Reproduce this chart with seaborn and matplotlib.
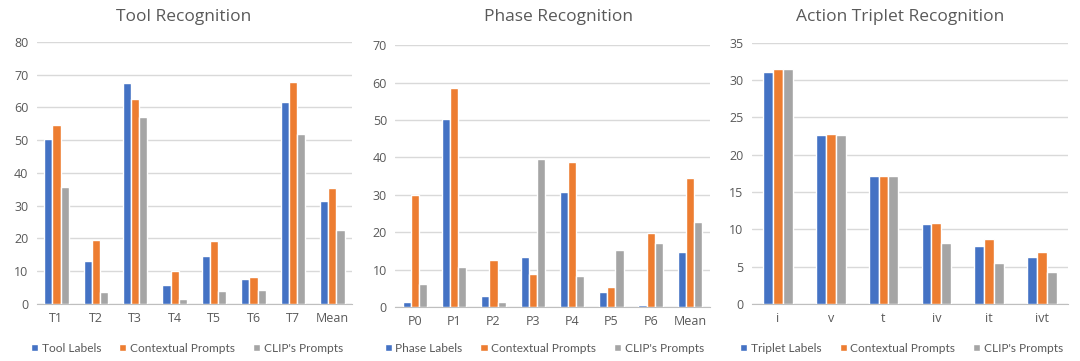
import pandas as pd
import seaborn as sns
import matplotlib.pyplot as plt
from matplotlib.patches import Patch

# values
tool_cats = ['T1', 'T2', 'T3', 'T4', 'T5', 'T6', 'T7', 'Mean']
tool_labels = [50.5, 13.1, 67.3, 5.8, 14.7, 7.6, 61.6, 31.4]
tool_context = [54.5, 19.6, 62.6, 10.2, 19.3, 8.2, 67.8, 35.5]
tool_clip = [35.7, 3.7, 57.2, 1.5, 4.0, 4.3, 52.0, 22.7]

phase_cats = ['P0', 'P1', 'P2', 'P3', 'P4', 'P5', 'P6', 'Mean']
phase_labels = [1.2, 50.2, 2.8, 13.4, 30.8, 4.0, 0.5, 14.7]
phase_context = [29.9, 58.5, 12.6, 8.8, 38.7, 5.3, 19.7, 34.5]
phase_clip = [6.1, 10.8, 1.3, 39.5, 8.3, 15.1, 17.2, 22.6]

triplet_cats = ['i', 'v', 't', 'iv', 'it', 'ivt']
triplet_labels = [31.1, 22.6, 17.1, 10.7, 7.8, 6.3]
triplet_context = [31.4, 22.7, 17.1, 10.8, 8.7, 7.0]
triplet_clip = [31.4, 22.6, 17.1, 8.2, 5.5, 4.3]

colors = ['#4472C4', '#ED7D31', '#A5A5A5']
text_grey = '#595959'

panels = [
    ('Tool Recognition', tool_cats,
     [('Tool Labels', tool_labels), ('Contextual Prompts', tool_context),
      ("CLIP's Prompts", tool_clip)],
     (80, 10), [0.034, 0.158, 0.292, 0.726], 0.170, 0.173),
    ('Phase Recognition', phase_cats,
     [('Phase Labels', phase_labels), ('Contextual Prompts', phase_context),
      ("CLIP's Prompts", phase_clip)],
     (70, 10), [0.366, 0.150, 0.291, 0.724], 0.517, 0.504),
    ('Action Triplet Recognition', triplet_cats,
     [('Triplet Labels', triplet_labels), ('Contextual Prompts', triplet_context),
      ("CLIP's Prompts", triplet_clip)],
     (35, 5), [0.696, 0.158, 0.293, 0.724], 0.833, 0.835),
]

sns.set_style('white')
plt.rcParams['font.family'] = ['Open Sans', 'DejaVu Sans']

fig = plt.figure(figsize=(10.8, 3.61), dpi=100)

for (title, cats, series, (ymax, step), rect, tx, lx) in panels:
    rows = []
    for (name, vals) in series:
        for (c, v) in zip(cats, vals):
            rows.append({'cat': c, 'series': name, 'value': v})
    df = pd.DataFrame(rows)

    ax = fig.add_axes(rect)
    sns.barplot(data=df, x='cat', y='value', hue='series', order=cats,
                hue_order=[s[0] for s in series], palette=colors,
                saturation=1, width=0.62 if len(cats) == 8 else 0.56, gap=0,
                errorbar=None, legend=False, ax=ax, zorder=3)

    ax.set_ylim(0, ymax)
    ax.set_yticks(range(0, ymax + 1, step))
    ax.set_xlim(-0.5, len(cats) - 0.5)
    ax.grid(axis='y', color='#D9D9D9', linewidth=1, zorder=0)
    ax.set_axisbelow(True)
    for s in ('top', 'right', 'left'):
        ax.spines[s].set_visible(False)
    ax.spines['bottom'].set_color('#BFBFBF')
    ax.tick_params(axis='both', length=0, labelsize=9, colors=text_grey, pad=6)
    ax.set_xlabel('')
    ax.set_ylabel('')

    fig.text(tx, 0.953, title, ha='center', va='center', fontsize=12.5,
             color=text_grey)

    handles = [Patch(facecolor=c, label=s[0]) for (c, s) in zip(colors, series)]
    fig.legend(handles=handles, loc='center', bbox_to_anchor=(lx, 0.036),
               ncol=3, frameon=False, handlelength=0.6,
               handleheight=0.6, handletextpad=0.3, columnspacing=1.5,
               labelcolor=text_grey, prop={'family': 'Lato', 'size': 8.6})

fig.savefig('out.png', dpi=100)
